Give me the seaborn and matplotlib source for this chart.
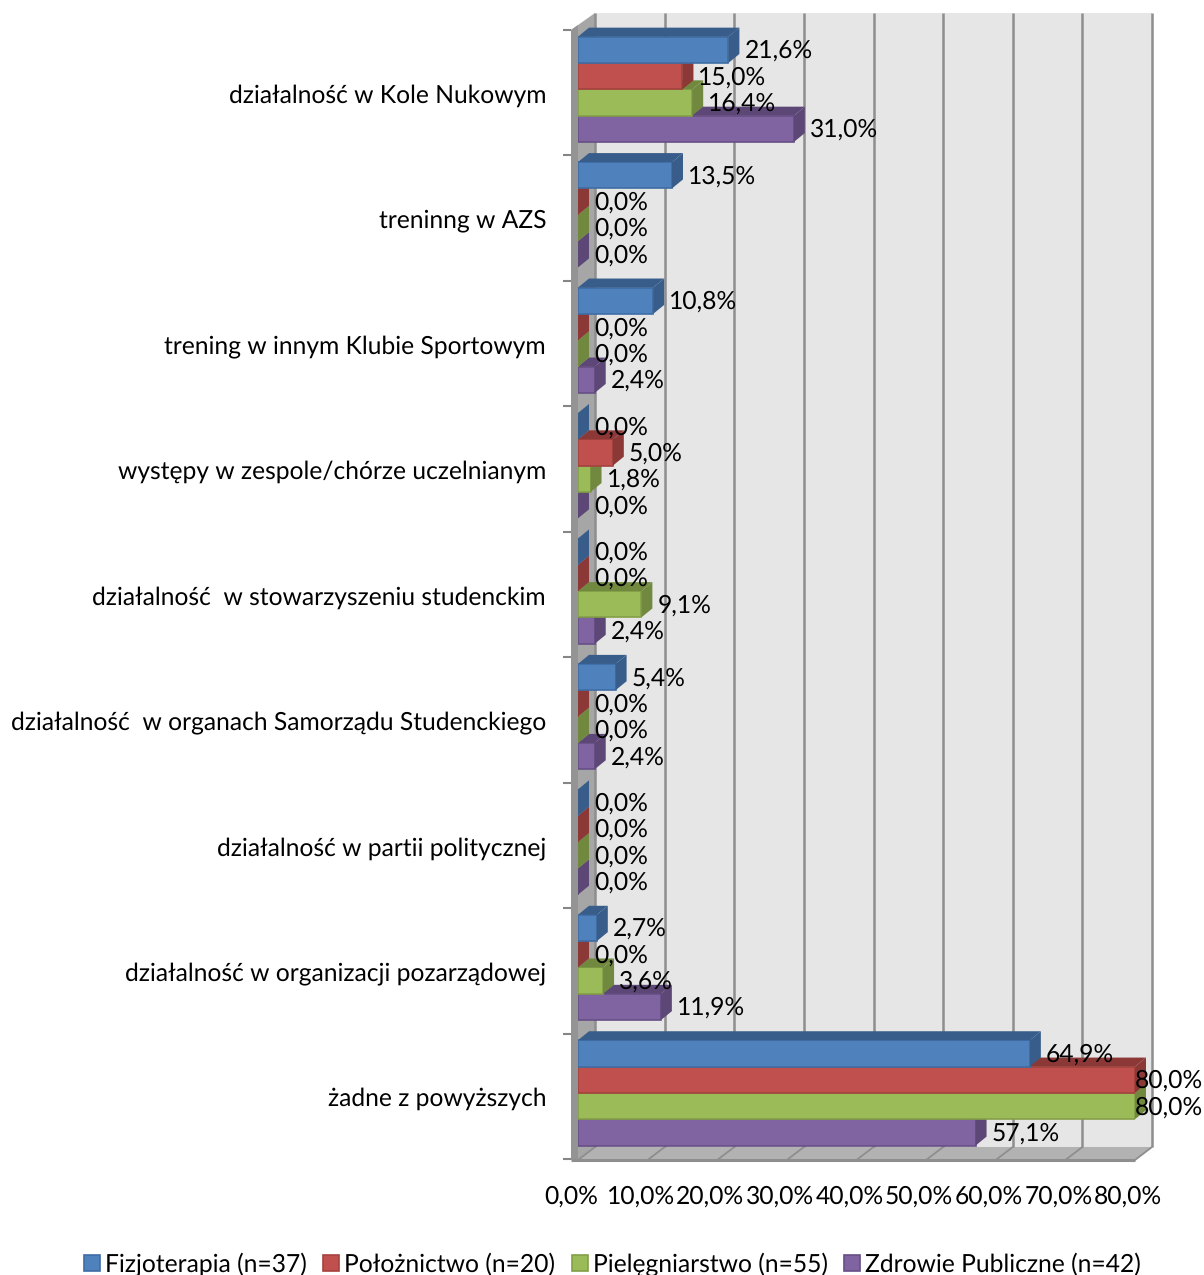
import matplotlib
matplotlib.use('Agg')
import matplotlib.pyplot as plt
from matplotlib.patches import Polygon
from matplotlib.transforms import ScaledTranslation
import pandas as pd
import seaborn as sns

categories = [
    'działalność w Kole Nukowym',
    'treninng w AZS',
    'trening w innym Klubie Sportowym',
    'występy w zespole/chórze uczelnianym',
    'działalność  w stowarzyszeniu studenckim',
    'działalność  w organach Samorządu Studenckiego',
    'działalność w partii politycznej',
    'działalność w organizacji pozarządowej',
    'żadne z powyższych',
]
series_names = ['Fizjoterapia (n=37)', 'Położnictwo (n=20)', 'Pielęgniarstwo (n=55)', 'Zdrowie Publiczne (n=42)']
fizjoterapia = [21.6, 13.5, 10.8, 0.0, 0.0, 5.4, 0.0, 2.7, 64.9]
poloznictwo = [15.0, 0.0, 0.0, 5.0, 0.0, 0.0, 0.0, 0.0, 80.0]
pielegniarstwo = [16.4, 0.0, 0.0, 1.8, 9.1, 0.0, 0.0, 3.6, 80.0]
zdrowie = [31.0, 0.0, 2.4, 0.0, 2.4, 2.4, 0.0, 11.9, 57.1]
x_ticks = [0, 10, 20, 30, 40, 50, 60, 70, 80]

front_colors = ['#4F81BD', '#C0504D', '#9BBB59', '#8064A2']
edge_colors = ['#3F6DA6', '#A5423F', '#84A047', '#674F86']
side_colors = ['#385D8A', '#8C3836', '#71893F', '#5C4776']

sns.set_style('white')
plt.rcParams['font.family'] = ['Lato', 'DejaVu Sans']
plt.rcParams['text.hinting'] = 'none'
FONT = 17.7

W, H = 1204, 1275
X0, X80 = 578, 1135
PX = (X80 - X0) / 80       # pixels per percent
ROW = 125.45               # pixels per category
FIRST_TOP = 26.6           # top of the first category band on the front plane
BACK_X, BACK_Y = 17, 13    # offset of the back wall
DEPTH_X, DEPTH_Y = 11, 9   # depth of the bars

df = pd.DataFrame({
    'category': categories * 4,
    'series': [s for s in series_names for _ in categories],
    'value': fizjoterapia + poloznictwo + pielegniarstwo + zdrowie,
})

fig = plt.figure(figsize=(W / 100, H / 100), dpi=100)

# frame of the fake 3d box, in pixels
frame = fig.add_axes([0, 0, 1, 1])
frame.set_xlim(0, W)
frame.set_ylim(H, 0)
frame.axis('off')
grid_col = '#8E8E8E'
top, bottom = 13, 1147
front_y = bottom + BACK_Y
frame.add_patch(Polygon([(X0 + BACK_X, top), (X80 + BACK_X, top), (X80 + BACK_X, bottom), (X0 + BACK_X, bottom)],
                        fc='#E6E6E6', ec='none'))
frame.add_patch(Polygon([(X0, front_y), (X80, front_y), (X80 + BACK_X, bottom), (X0 + BACK_X, bottom)],
                        fc='#B2B2B2', ec='none'))
for t in x_ticks:
    gx = X0 + t * PX
    frame.plot([gx + BACK_X] * 2, [top, bottom], color=grid_col, lw=1.8, solid_capstyle='butt')
    frame.plot([gx, gx + BACK_X], [front_y, bottom], color=grid_col, lw=1.3)
frame.plot([X0 - 7, X80], [front_y, front_y], color=grid_col, lw=2.2, solid_capstyle='butt')
frame.add_patch(Polygon([(571, 30), (X0 + BACK_X, top), (X0 + BACK_X, bottom), (X0, front_y), (571, front_y)],
                        fc='#A6A6A6', ec='none'))
frame.add_patch(Polygon([(571, 30), (X0, 25), (X0, front_y), (571, front_y)], fc='#949494', ec='none'))
for i in range(len(categories) + 1):
    ty = 30 + ROW * i
    frame.plot([563, 571], [ty, ty], color='#868686', lw=1.5, solid_capstyle='butt')

# real chart on the front plane
ax = fig.add_axes([X0 / W, 1 - (FIRST_TOP + ROW * 9) / H, (X80 - X0) / W, ROW * 9 / H])
ax.patch.set_alpha(0)
sns.barplot(data=df, y='category', x='value', hue='series', order=categories, hue_order=series_names,
            palette=front_colors, saturation=1, width=0.84, gap=0, ax=ax, legend=True)
ax.set_xlim(0, 80)
ax.set_ylim(len(categories) - 0.5, -0.5)
ax.set_xlabel('')
ax.set_ylabel('')
for s in ax.spines.values():
    s.set_visible(False)

dx = DEPTH_X / PX
dy = DEPTH_Y / ROW
for j, cont in enumerate(ax.containers):
    z = 10 - j
    for bar in cont:
        x1 = bar.get_x() + bar.get_width()
        y1, y2 = bar.get_y(), bar.get_y() + bar.get_height()
        y1, y2 = min(y1, y2), max(y1, y2)
        bar.set_zorder(z)
        bar.set_edgecolor(edge_colors[j])
        bar.set_linewidth(1.2)
        # top face and end face
        ax.add_patch(Polygon([(0, y1), (dx, y1 - dy), (x1 + dx, y1 - dy), (x1, y1)],
                             fc=side_colors[j], ec='none', zorder=z, clip_on=False))
        ax.add_patch(Polygon([(x1, y1), (x1 + dx, y1 - dy), (x1 + dx, y2 - dy), (x1, y2)],
                             fc=side_colors[j], ec='none', zorder=z, clip_on=False))
        # Excel pushes a label back when it would leave the chart
        ax.text(min(x1 + 16 / PX, 80), (y1 + y2) / 2 + 1 / ROW, f'{x1:.1f}%'.replace('.', ','),
                ha='left', va='center', fontsize=FONT, color='black', zorder=30, clip_on=False)

ax.set_xticks(x_ticks)
ax.set_xticklabels([f'{t},0%' for t in x_ticks], fontsize=FONT)
ax.tick_params(axis='x', length=0, pad=21, labelcolor='black')
ax.tick_params(axis='y', length=0, pad=23, labelsize=FONT, labelcolor='black')
shift_x = ScaledTranslation(-7 / 100, 0, fig.dpi_scale_trans)
for lab in ax.get_xticklabels():
    lab.set_transform(lab.get_transform() + shift_x)
shift_y = ScaledTranslation(0, -4 / 100, fig.dpi_scale_trans)
for lab in ax.get_yticklabels():
    lab.set_transform(lab.get_transform() + shift_y)

handles, labels = ax.get_legend_handles_labels()
for h, ec in zip(handles, edge_colors):
    h.set_edgecolor(ec)
    h.set_linewidth(1.2)
ax.legend(handles, labels, ncols=4, frameon=False, fontsize=FONT, loc='center', labelcolor='black',
          bbox_to_anchor=(612.5 / W, 1 - 1264.5 / H), bbox_transform=fig.transFigure,
          handlelength=0.65, handleheight=0.65, handletextpad=0.2, columnspacing=0.67,
          borderpad=0, borderaxespad=0)

fig.savefig('out.png', dpi=100)
